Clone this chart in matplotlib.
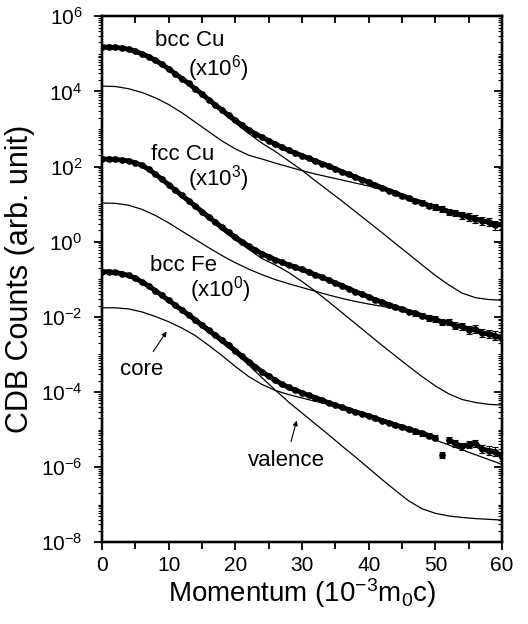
import numpy as np
import matplotlib
matplotlib.use('Agg')
import matplotlib.pyplot as plt
from matplotlib.ticker import FixedLocator, LogLocator, MultipleLocator, FuncFormatter, NullFormatter

plt.rcParams['font.family'] = ['Liberation Sans', 'DejaVu Sans']
plt.rcParams['mathtext.default'] = 'regular'

# momentum values (10^-3 m0c)
p_data = np.arange(0, 61, 1)
p_fit = np.arange(0, 61, 2)

# measured CDB spectra, log10 of counts (already scaled)
bcc_cu_data = [5.18, 5.18, 5.17, 5.15, 5.12, 5.07, 5.00, 4.92, 4.83, 4.72,
               4.60, 4.47, 4.34, 4.21, 4.07, 3.93, 3.78, 3.64, 3.50, 3.36,
               3.23, 3.10, 2.98, 2.87, 2.78, 2.69, 2.60, 2.51, 2.43, 2.36,
               2.29, 2.22, 2.15, 2.08, 2.01, 1.94, 1.86, 1.79, 1.72, 1.65,
               1.58, 1.50, 1.44, 1.36, 1.30, 1.22, 1.16, 1.08, 1.04, 0.96,
               0.92, 0.86, 0.80, 0.76, 0.70, 0.66, 0.60, 0.55, 0.52, 0.44, 0.46]
fcc_cu_data = [2.20, 2.20, 2.19, 2.17, 2.15, 2.10, 2.03, 1.93, 1.80, 1.66,
               1.52, 1.37, 1.23, 1.09, 0.95, 0.80, 0.66, 0.52, 0.38, 0.25,
               0.12, 0.00, -0.12, -0.22, -0.32, -0.40, -0.48, -0.55, -0.62, -0.68,
               -0.74, -0.81, -0.88, -0.95, -1.02, -1.10, -1.17, -1.25, -1.33, -1.40,
               -1.47, -1.55, -1.61, -1.68, -1.74, -1.80, -1.86, -1.91, -1.97, -2.03,
               -2.06, -2.14, -2.15, -2.24, -2.25, -2.35, -2.33, -2.44, -2.45, -2.50, -2.58]
bcc_fe_data = [-0.80, -0.80, -0.82, -0.85, -0.90, -0.97, -1.07, -1.18, -1.30, -1.43,
               -1.56, -1.69, -1.82, -1.95, -2.08, -2.22, -2.35, -2.49, -2.62, -2.76,
               -2.90, -3.05, -3.19, -3.33, -3.46, -3.58, -3.69, -3.79, -3.88, -3.95,
               -4.02, -4.09, -4.15, -4.22, -4.29, -4.35, -4.41, -4.47, -4.53, -4.58,
               -4.64, -4.70, -4.76, -4.82, -4.88, -4.93, -4.99, -5.05, -5.10, -5.16,
               -5.22, -5.68, -5.28, -5.37, -5.45, -5.40, -5.37, -5.52, -5.56, -5.59, -5.72]

# error bars, in decades
err_dex = [0.01, 0.01, 0.01, 0.01, 0.01, 0.01, 0.01, 0.01, 0.01, 0.01,
           0.01, 0.01, 0.01, 0.01, 0.01, 0.01, 0.01, 0.01, 0.01, 0.01,
           0.01, 0.01, 0.01, 0.01, 0.01, 0.01, 0.02, 0.02, 0.02, 0.02,
           0.02, 0.02, 0.02, 0.02, 0.02, 0.03, 0.03, 0.03, 0.03, 0.03,
           0.03, 0.04, 0.04, 0.04, 0.05, 0.05, 0.05, 0.06, 0.06, 0.07,
           0.07, 0.08, 0.08, 0.09, 0.09, 0.10, 0.10, 0.11, 0.11, 0.12, 0.12]

# core contributions (log10), merge into the total fit at high momentum
bcc_cu_core = [4.14, 4.13, 4.07, 3.97, 3.83, 3.65, 3.43, 3.18, 2.93, 2.68,
               2.47, 2.30, 2.20, 2.09, 1.99, 1.89, 1.80, 1.72, 1.64, 1.56,
               1.48, 1.38, 1.29, 1.17, 1.06, 0.95, 0.85, 0.75, 0.65, 0.56, 0.47]
fcc_cu_core = [1.03, 1.02, 0.97, 0.86, 0.70, 0.50, 0.28, 0.06, -0.16, -0.37,
               -0.56, -0.73, -0.88, -1.01, -1.12, -1.22, -1.32, -1.42, -1.51, -1.59,
               -1.66, -1.72, -1.78, -1.87, -1.97, -2.07, -2.17, -2.27, -2.38, -2.49, -2.59]
bcc_fe_core = [-1.76, -1.76, -1.79, -1.87, -1.99, -2.13, -2.30, -2.50, -2.76, -3.03,
               -3.32, -3.59, -3.80, -3.96, -4.07, -4.16, -4.25, -4.33, -4.42, -4.53,
               -4.65, -4.77, -4.89, -5.02, -5.15, -5.28, -5.41, -5.54, -5.67, -5.80, -5.93]

# valence contributions (log10)
bcc_cu_val = [5.14, 5.13, 5.08, 4.96, 4.79, 4.56, 4.30, 4.03, 3.74, 3.45,
              3.16, 2.88, 2.62, 2.40, 2.15, 1.90, 1.62, 1.35, 1.08, 0.80,
              0.52, 0.24, -0.05, -0.33, -0.62, -0.90, -1.15, -1.37, -1.49, -1.54, -1.56]
fcc_cu_val = [2.17, 2.16, 2.12, 2.00, 1.77, 1.48, 1.18, 0.90, 0.60, 0.31,
              0.04, -0.20, -0.45, -0.62, -0.82, -1.06, -1.32, -1.60, -1.89, -2.18,
              -2.47, -2.76, -3.04, -3.32, -3.59, -3.84, -4.05, -4.20, -4.28, -4.33, -4.35]
bcc_fe_val = [-0.84, -0.86, -0.94, -1.11, -1.34, -1.60, -1.87, -2.14, -2.42, -2.69,
              -2.97, -3.28, -3.62, -3.95, -4.27, -4.56, -4.85, -5.14, -5.44, -5.73,
              -6.03, -6.33, -6.62, -6.90, -7.11, -7.23, -7.30, -7.34, -7.37, -7.39, -7.41]

fig = plt.figure(figsize=(5.28, 6.24), dpi=100)
ax = fig.add_axes([0.193, 0.131, 0.758, 0.843])

err = np.array(err_dex)
# thick band through the points; the Fe outlier at 51 stays a lone point
band_parts = {0: [(0, 61)], 1: [(0, 61)], 2: [(0, 51), (52, 61)]}
for k, data in enumerate((bcc_cu_data, fcc_cu_data, bcc_fe_data)):
    y = 10.0 ** np.array(data)
    for a, b in band_parts[k]:
        ax.plot(p_data[a:b], y[a:b], color='k', lw=3.5, solid_capstyle='round',
                solid_joinstyle='round', zorder=3)
    ax.errorbar(p_data, y, yerr=[y - y * 10 ** -err, y * 10 ** err - y], fmt='o',
                color='k', ms=3.8, elinewidth=0.8, capsize=2.4, capthick=0.8, zorder=3)

for curve in (bcc_cu_core, fcc_cu_core, bcc_fe_core, bcc_cu_val, fcc_cu_val, bcc_fe_val):
    ax.plot(p_fit, 10.0 ** np.array(curve), color='k', lw=0.9, zorder=2)

ax.set_yscale('log')
ax.set_xlim(0, 60)
ax.set_ylim(1e-8, 1e6)

ax.xaxis.set_major_locator(MultipleLocator(10))
ax.xaxis.set_minor_locator(MultipleLocator(5))
ax.yaxis.set_major_locator(FixedLocator(10.0 ** np.arange(-8, 7, 2)))
ax.yaxis.set_minor_locator(LogLocator(base=10, subs=np.arange(1, 10), numticks=40))
ax.yaxis.set_major_formatter(FuncFormatter(lambda v, pos: '$10^{%d}$' % round(np.log10(v))))
ax.yaxis.set_minor_formatter(NullFormatter())

ax.tick_params(axis='both', which='major', direction='out', length=6, width=1.3, labelsize=15)
ax.tick_params(axis='x', which='minor', direction='out', length=5, width=1.3)
ax.tick_params(axis='y', which='minor', direction='out', length=3, width=0.8)
ax.tick_params(axis='x', pad=4)
ax.tick_params(axis='y', pad=8)

# mirrored ticks pointing inward on top and right
axt = ax.twiny()
axt.set_xlim(0, 60)
axt.xaxis.set_major_locator(MultipleLocator(10))
axt.xaxis.set_minor_locator(MultipleLocator(5))
axt.tick_params(axis='x', which='both', direction='in', length=5, width=1.3, labeltop=False)
axr = ax.twinx()
axr.set_yscale('log')
axr.set_ylim(1e-8, 1e6)
axr.yaxis.set_major_locator(FixedLocator(10.0 ** np.arange(-8, 7, 2)))
axr.yaxis.set_minor_locator(LogLocator(base=10, subs=np.arange(1, 10), numticks=40))
axr.yaxis.set_minor_formatter(NullFormatter())
axr.tick_params(axis='y', which='major', direction='in', length=6, width=1.3, labelright=False)
axr.tick_params(axis='y', which='minor', direction='in', length=3, width=0.8)

for a in (ax, axt, axr):
    for s in a.spines.values():
        s.set_linewidth(1.6)

ax.set_xlabel('Momentum (10$^{-3}$m$_0$c)', fontsize=20, labelpad=1)
ax.set_ylabel('CDB Counts (arb. unit)', fontsize=22, labelpad=4)

txt = dict(fontsize=16, ha='center', va='center')
ax.text(13.2, 10 ** 5.35, 'bcc Cu', **txt)
ax.text(17.4, 10 ** 4.6, '(x10$^6$)', **txt)
ax.text(12.1, 10 ** 2.31, 'fcc Cu', **txt)
ax.text(17.5, 10 ** 1.68, '(x10$^3$)', **txt)
ax.text(12.3, 10 ** -0.64, 'bcc Fe', **txt)
ax.text(17.7, 10 ** -1.28, '(x10$^0$)', **txt)

ax.annotate('core', xy=(9.7, 10 ** -2.39), xytext=(5.9, 10 ** -3.4), fontsize=16,
            ha='center', va='center',
            arrowprops=dict(arrowstyle='-|>', color='k', lw=0.8, mutation_scale=7, shrinkA=4, shrinkB=0))
ax.annotate('valence', xy=(29.2, 10 ** -4.76), xytext=(27.6, 10 ** -5.82), fontsize=16,
            ha='center', va='center',
            arrowprops=dict(arrowstyle='-|>', color='k', lw=0.8, mutation_scale=7, shrinkA=4, shrinkB=0))

fig.savefig('out.png', dpi=100)
